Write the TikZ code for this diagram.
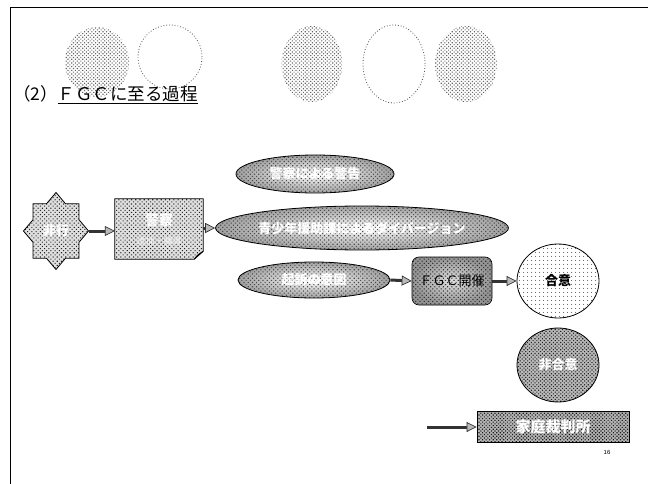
\documentclass[tikz,border=0pt]{standalone}
\usepackage{fontspec}
\setmainfont{Liberation Sans}
\newfontfamily\jp{Noto Sans CJK JP}
\usetikzlibrary{shapes.geometric,patterns.meta,arrows.meta,shapes.misc}
\tikzset{
  arr/.style={line width=3pt, draw=black!80,
    -{Triangle[length=10pt,width=10pt,fill=gray!55,line width=0.7pt]}},
  deco/.style={ellipse, inner sep=0pt, pattern={Dots[distance=2.6pt,radius=0.8pt,angle=45]}, pattern color=black!60},
  decoline/.style={ellipse, inner sep=0pt, draw=black!70, dotted, line width=0.8pt},
  halfell/.style={ellipse, inner sep=0pt, draw=black, line width=0.8pt,
    preaction={shade, inner color=white, outer color=gray!75},
    pattern={Dots[distance=3pt,radius=0.8pt,angle=45]}, pattern color=black!70,
    text=white, font=\fontsize{13}{15}\selectfont\jp\bfseries},
  lighttone/.style={preaction={fill=gray!25},
    pattern={Dots[distance=3pt,radius=0.75pt,angle=45]}, pattern color=black!85,
    draw=black, line width=0.8pt},
}
\begin{document}
\begin{tikzpicture}[x=1pt,y=-1pt]
\useasboundingbox (0,0) rectangle (648,484);
% frame
\draw[black, line width=1pt] (10,484) -- (10,8) -- (648,8);
% decorative circles
\node[deco, minimum width=64pt, minimum height=70pt] (d1) at (97,62) {};
\node[decoline, minimum width=64pt, minimum height=64pt] (d2) at (170,57) {};
\node[deco, minimum width=61pt, minimum height=76pt] (d3) at (312,64) {};
\node[decoline, minimum width=62pt, minimum height=78pt] (d4) at (394,64) {};
\node[deco, minimum width=62pt, minimum height=76pt] (d5) at (466,64) {};
% title
\node[anchor=west, inner sep=0pt, font=\fontsize{17.5}{20}\selectfont\jp] (title) at (13,95)
  {（2）\underline{ＦＧＣに至る過程}};
% star
\node[minimum width=65pt, minimum height=77pt, inner sep=0pt] (inc) at (56,231) {};
\path[lighttone] (inc.center) +(32.5,0) -- +(22.98,11.28) -- +(22.98,27.22) -- +(9.52,27.22)
  -- +(0,38.5) -- +(-9.52,27.22) -- +(-22.98,27.22) -- +(-22.98,11.28)
  -- +(-32.5,0) -- +(-22.98,-11.28) -- +(-22.98,-27.22) -- +(-9.52,-27.22)
  -- +(0,-38.5) -- +(9.52,-27.22) -- +(22.98,-27.22) -- +(22.98,-11.28) -- cycle;
\node[text=white, font=\fontsize{13}{15}\selectfont\jp\bfseries] (inctext) at (inc.center) {非行};
% document box
\node[minimum width=88pt, minimum height=60pt, inner sep=0pt] (doc) at (159,229) {};
\path[lighttone] (doc.north west) -- (doc.north east) -- ([yshift=8pt]doc.south east)
  -- ([xshift=-9pt]doc.south east) -- (doc.south west) -- cycle;
\draw[black, line width=0.8pt, fill=white] ([yshift=8pt]doc.south east) -- ([xshift=-9pt]doc.south east)
  .. controls ([xshift=-6pt,yshift=4pt]doc.south east) .. cycle;
\node[text=white, font=\fontsize{14}{16}\selectfont\jp\bfseries] (doct1) at ([yshift=9pt]doc.center) {警察};
\node[text=white!90!gray, font=\fontsize{9}{11}\selectfont\jp] (doct2) at ([yshift=-12pt]doc.center) {逮捕・補導};
% ellipses
\node[halfell, minimum width=158pt, minimum height=38pt] (e1) at (315,174) {警察による警告};
\node[halfell, minimum width=256pt, minimum height=44pt] (e2) at (362,228) {青少年援助課によるダイバージョン};
\node[halfell, minimum width=152pt, minimum height=36pt] (e3) at (314,280) {起訴の意図};
% FGC
\node[rounded corners=7pt, draw=black, line width=0.6pt, minimum width=80pt, minimum height=48pt,
  preaction={shade, inner color=gray!25, outer color=gray!85},
  pattern={Dots[distance=3pt,radius=0.8pt,angle=45]}, pattern color=black!80,
  font=\fontsize{13}{15}\selectfont\jp] (fgc) at (452,281) {ＦＧＣ開催};
% agreement circles
\node[ellipse, draw=black, line width=0.8pt, minimum width=82pt, minimum height=74pt,
  pattern={Dots[distance=4pt,radius=0.6pt]}, pattern color=black,
  font=\fontsize{13}{15}\selectfont\jp\bfseries] (ok) at (558,281) {合意};
\node[ellipse, draw=black, line width=0.8pt, minimum width=82pt, minimum height=74pt,
  preaction={fill=gray!55},
  pattern={Dots[distance=2.6pt,radius=0.8pt,angle=45]}, pattern color=black!85,
  text=white, font=\fontsize{13}{15}\selectfont\jp\bfseries] (ng) at (558,365) {非合意};
% court
\node[draw=black, line width=0.8pt, minimum width=152pt, minimum height=31pt,
  preaction={fill=gray!60},
  pattern={Dots[distance=2.5pt,radius=0.8pt,angle=45]}, pattern color=black!90,
  text=white, font=\fontsize{15}{17}\selectfont\jp\bfseries] (court) at (553,427) {家庭裁判所};
\coordinate (cin) at (427,427);
% arrows
\draw[arr] (inc.east) -- (inc.east -| doc.west);
\draw[arr] (doc.east |- e2.west) -- (e2.west);
\draw[arr] (e3.east) -- (fgc.west);
\draw[arr] (fgc.east) -- (ok.west);
\draw[arr] (cin) -- (court.west);
% page number
\node[font=\fontsize{6}{7}\selectfont] (pg) at (607,452) {16};
\end{tikzpicture}
\end{document}
